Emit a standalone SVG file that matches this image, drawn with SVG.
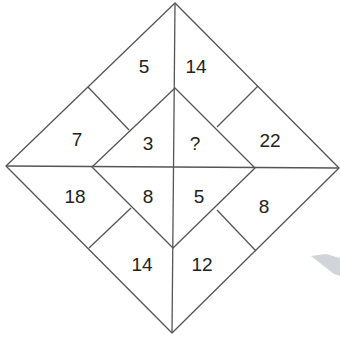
<svg xmlns="http://www.w3.org/2000/svg" width="340" height="337" viewBox="0 0 340 337">
<style>
.l{stroke:#555;stroke-width:1.3;fill:none;stroke-linejoin:round}
.t{font-family:"Liberation Sans",Arial,sans-serif;font-size:19px;fill:#222;text-anchor:middle;dominant-baseline:central}
</style>
<rect width="340" height="337" fill="#fff"/>
<polygon points="311,256 326,254 340,258 340,276 334,274" fill="#c9cdd1" opacity="0.85"/>
<g id="connectors">
<polygon class="l" points="175,3 339,168 172,333 6,166"/>
<polygon class="l" points="175,88 255,168 173,248 92,167"/>
<line class="l" x1="6" y1="166" x2="339" y2="168"/>
<line class="l" x1="175" y1="3" x2="172" y2="333"/>
<line class="l" x1="88" y1="87" x2="129" y2="130"/>
<line class="l" x1="217" y1="127" x2="258" y2="86"/>
<line class="l" x1="131" y1="208" x2="89" y2="248"/>
<line class="l" x1="217" y1="210" x2="256" y2="251"/>
</g>
<g id="n1"><text class="t" x="144" y="66">5</text></g>
<g id="n2"><text class="t" x="196" y="66">14</text></g>
<g id="n3"><text class="t" x="77" y="139">7</text></g>
<g id="n4"><text class="t" x="148" y="143">3</text></g>
<g id="n5"><text class="t" x="195" y="143">?</text></g>
<g id="n6"><text class="t" x="270" y="140">22</text></g>
<g id="n7"><text class="t" x="75" y="196">18</text></g>
<g id="n8"><text class="t" x="148" y="196">8</text></g>
<g id="n9"><text class="t" x="199" y="196">5</text></g>
<g id="n10"><text class="t" x="264" y="206">8</text></g>
<g id="n11"><text class="t" x="142" y="264">14</text></g>
<g id="n12"><text class="t" x="202" y="264">12</text></g>
</svg>
